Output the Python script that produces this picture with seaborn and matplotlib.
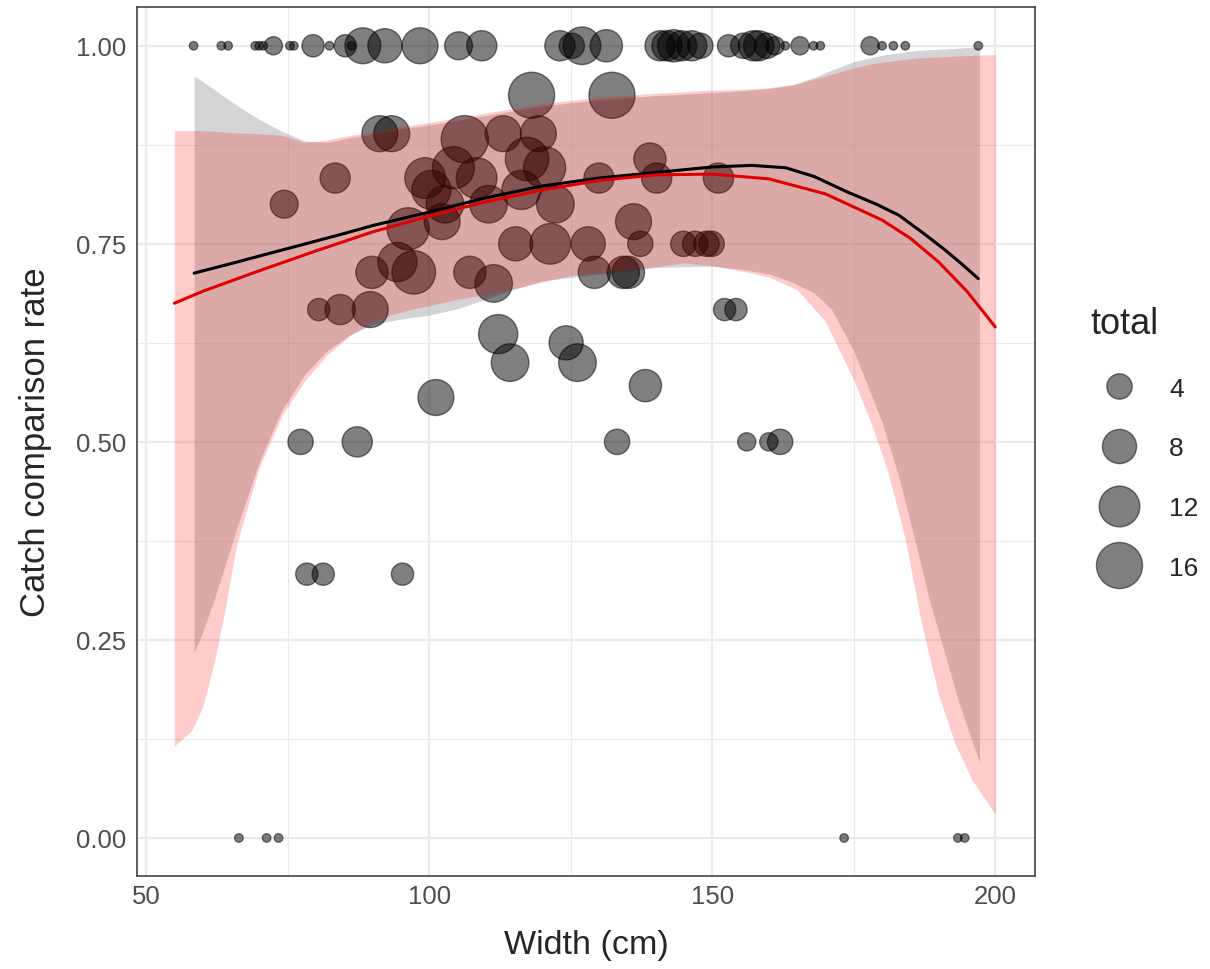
import matplotlib
matplotlib.use("Agg")
import matplotlib.pyplot as plt
from matplotlib.lines import Line2D
from matplotlib.ticker import MultipleLocator
import numpy as np
import pandas as pd
import seaborn as sns

# observed catch comparison per width class
pt_width = [58.4, 63.3, 64.5, 69.3, 70.0, 70.7, 72.5, 75.4, 76.1, 79.5, 82.4, 85.2, 86.3,
            88.3, 92.2, 98.4, 105.2, 109.3, 123.1, 125.2, 127.0, 131.3, 140.8, 142.0,
            143.2, 144.6, 146.4, 147.9, 152.9, 155.5, 157.3, 158.2, 159.7, 161.1, 162.9,
            165.5, 167.9, 169.1, 177.9, 180.0, 182.0, 184.1, 197.0,
            74.4, 83.4, 91.3, 93.4, 106.3, 113.1, 119.3, 118.1, 132.3, 117.3, 120.4,
            99.3, 104.3, 108.4, 100.4, 102.8, 110.5, 116.3, 122.3, 130.0, 102.3, 96.3,
            115.3, 121.4, 128.1, 89.9, 94.4, 97.3, 107.2, 111.4, 129.2, 134.3, 135.2,
            80.5, 84.3, 89.6, 112.2, 114.3, 124.2, 126.2, 101.2, 77.3, 87.3, 133.2,
            138.2, 78.4, 81.3, 95.3, 139.0, 140.2, 151.1, 136.1, 137.3, 144.9, 147.0,
            149.0, 149.9, 152.2, 154.2, 156.1, 160.0, 162.0,
            66.4, 71.3, 73.4, 173.3, 193.4, 194.6]
pt_rate = [1.0] * 43 + [
    0.8, 0.833, 0.889, 0.889, 0.882, 0.889, 0.889, 0.9375, 0.9375, 0.857, 0.846,
    0.833, 0.846, 0.833, 0.818, 0.8, 0.8, 0.818, 0.8, 0.833, 0.778, 0.769,
    0.75, 0.75, 0.75, 0.714, 0.727, 0.714, 0.714, 0.7, 0.714, 0.714, 0.714,
    0.667, 0.667, 0.667, 0.636, 0.6, 0.625, 0.6, 0.556, 0.5, 0.5, 0.5,
    0.571, 0.333, 0.333, 0.333, 0.857, 0.833, 0.833, 0.778, 0.75, 0.75, 0.75,
    0.75, 0.75, 0.667, 0.667, 0.5, 0.5, 0.5,
    0.0, 0.0, 0.0, 0.0, 0.0, 0.0]
pt_total = [1, 1, 1, 1, 1, 1, 2, 1, 1, 3, 1, 3, 1,
            9, 8, 9, 5, 6, 6, 4, 10, 7, 6, 6,
            7, 6, 6, 4, 3, 4, 6, 6, 4, 2, 1,
            2, 1, 1, 2, 1, 1, 1, 1,
            5, 6, 9, 9, 17, 9, 9, 16, 16, 14, 13,
            12, 13, 12, 11, 10, 10, 11, 10, 6, 9, 13,
            8, 12, 8, 7, 11, 14, 7, 10, 7, 7, 7,
            3, 6, 9, 11, 10, 8, 10, 9, 4, 6, 4,
            7, 3, 3, 3, 7, 6, 6, 9, 4, 4, 4,
            4, 4, 3, 3, 2, 2, 4,
            1, 1, 1, 1, 1, 1]

# model over the observed width range (black line, grey band)
obs_fit_x = [58.5, 65, 75, 85, 90, 100, 110, 120, 130, 140, 150, 157, 163, 168, 174,
             179, 183, 187, 191, 194, 197]
obs_fit_y = [0.713, 0.725, 0.744, 0.763, 0.773, 0.790, 0.808, 0.823, 0.833, 0.840,
             0.847, 0.849, 0.846, 0.835, 0.815, 0.800, 0.786, 0.765, 0.743, 0.725, 0.706]
obs_band_x = [58.5, 60, 62, 64, 66, 70, 74, 78, 82, 86, 90, 95, 100, 105, 110, 115,
              120, 130, 140, 150, 155, 160, 164, 168, 171, 175, 180, 183, 186, 188.3,
              191, 193.4, 196, 197.2]
obs_band_lo = [0.234, 0.26, 0.30, 0.345, 0.39, 0.475, 0.54, 0.585, 0.615, 0.635,
               0.648, 0.655, 0.660, 0.668, 0.680, 0.693, 0.703, 0.712, 0.720, 0.722,
               0.718, 0.712, 0.702, 0.688, 0.668, 0.615, 0.525, 0.455, 0.37, 0.302,
               0.235, 0.175, 0.12, 0.096]
obs_band_hi = [0.962, 0.955, 0.945, 0.935, 0.925, 0.907, 0.892, 0.880, 0.878, 0.884,
               0.888, 0.895, 0.900, 0.906, 0.912, 0.918, 0.924, 0.932, 0.937, 0.941,
               0.943, 0.946, 0.950, 0.960, 0.969, 0.980, 0.988, 0.991, 0.994, 0.995,
               0.996, 0.997, 0.998, 0.998]

# model over the extended width range (red line, pink band)
ext_fit_x = [55, 60, 70, 80, 90, 100, 110, 120, 130, 140, 150, 160, 170, 180, 185,
             190, 195, 200]
ext_fit_y = [0.675, 0.690, 0.716, 0.741, 0.765, 0.785, 0.803, 0.818, 0.830, 0.837,
             0.838, 0.832, 0.813, 0.780, 0.757, 0.727, 0.690, 0.645]
ext_band_x = [55, 58, 60, 62, 64, 66, 70, 74, 78, 82, 86, 90, 95, 100, 105, 110, 115,
              120, 125, 130, 140, 145, 150, 155, 160, 165, 170, 175, 178, 181, 184,
              187, 190, 193, 196, 200]
ext_band_lo = [0.116, 0.135, 0.165, 0.22, 0.29, 0.37, 0.468, 0.533, 0.577, 0.610,
               0.634, 0.652, 0.664, 0.672, 0.680, 0.686, 0.693, 0.702, 0.710, 0.714,
               0.721, 0.726, 0.722, 0.716, 0.708, 0.692, 0.652, 0.578, 0.525, 0.463,
               0.38, 0.27, 0.18, 0.117, 0.072, 0.030]
ext_band_hi = [0.893, 0.893, 0.893, 0.892, 0.891, 0.890, 0.889, 0.887, 0.878, 0.881,
               0.887, 0.891, 0.898, 0.903, 0.909, 0.915, 0.921, 0.927, 0.931, 0.935,
               0.940, 0.942, 0.944, 0.945, 0.947, 0.952, 0.962, 0.972, 0.977, 0.980,
               0.983, 0.985, 0.986, 0.987, 0.988, 0.989]

size_breaks = [4, 8, 12, 16]


def diam_pt(total):
    # ggplot-like area scale: diameter grows with sqrt(total)
    return (9.5 + 9.7 * np.sqrt(total - 1)) * 0.72 - 0.7


sns.set_theme(style="white")
plt.rcParams["font.family"] = ["Liberation Sans", "DejaVu Sans"]

df = pd.DataFrame({"width": pt_width, "rate": pt_rate, "total": pt_total})
sizes = {t: diam_pt(t) ** 2 for t in sorted(set(pt_total))}

fig = plt.figure(figsize=(12.1, 9.7), dpi=100)
ax = fig.add_axes([0.1132, 0.0959, 0.7421, 0.8959])

# grey band, points, red band over them, fitted lines on top
ax.fill_between(obs_band_x, obs_band_lo, obs_band_hi, color="#999999", alpha=0.42,
                lw=0, zorder=2)
sns.scatterplot(data=df, x="width", y="rate", size="total", sizes=sizes,
                color="black", alpha=0.5, edgecolor="black", linewidth=1,
                legend=False, ax=ax, zorder=3)
ax.fill_between(ext_band_x, ext_band_lo, ext_band_hi, color="red", alpha=0.2,
                lw=0, zorder=3.5)
sns.lineplot(x=obs_fit_x, y=obs_fit_y, color="black", lw=2.2, estimator=None, ax=ax,
             zorder=4)
sns.lineplot(x=ext_fit_x, y=ext_fit_y, color="#E00000", lw=2.2, estimator=None, ax=ax,
             zorder=4)

ax.set_xlim(48.4, 207)
ax.set_ylim(-0.048, 1.049)
ax.set_xticks([50, 100, 150, 200])
ax.set_yticks([0, 0.25, 0.5, 0.75, 1.0])
ax.set_yticklabels(["0.00", "0.25", "0.50", "0.75", "1.00"])
ax.xaxis.set_minor_locator(MultipleLocator(25))
ax.yaxis.set_minor_locator(MultipleLocator(0.125))
ax.set_axisbelow(True)
ax.grid(True, which="major", color="#EBEBEB", lw=1.6)
ax.grid(True, which="minor", color="#EBEBEB", lw=0.8)
ax.tick_params(which="major", length=5, width=1.1, color="#333333",
               labelcolor="#4D4D4D", labelsize=18.5, pad=3)
ax.tick_params(axis="x", which="major", pad=1)
ax.tick_params(which="minor", length=0)
for sp in ax.spines.values():
    sp.set_visible(True)
    sp.set_color("#333333")
    sp.set_linewidth(1.1)

ax.set_xlabel("Width (cm)", fontsize=24.5, labelpad=15)
ax.set_ylabel("Catch comparison rate", fontsize=25, labelpad=17)

handles = [Line2D([], [], ls="", marker="o", markersize=diam_pt(b), mfc="black",
                  mec="black", mew=1, alpha=0.5) for b in size_breaks]
fig.legend(handles, [str(b) for b in size_breaks], title="total",
           loc="upper left", bbox_to_anchor=(0.89, 0.697), frameon=False,
           fontsize=19, title_fontsize=26, alignment="left", labelspacing=1.35,
           handletextpad=0.8, handlelength=2.2, borderpad=0)

fig.savefig("out.png", dpi=100)
